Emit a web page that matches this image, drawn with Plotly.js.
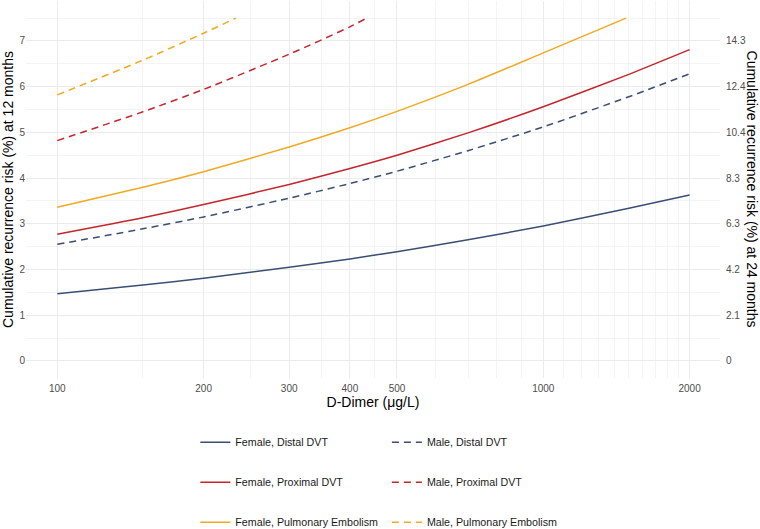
<!DOCTYPE html>
<html>
<head>
<meta charset="utf-8">
<script src="https://cdn.plot.ly/plotly-3.0.1.min.js"></script>
<style>html,body{margin:0;padding:0;background:#fff;}#chart{width:760px;height:529px;}</style>
</head>
<body>
<div id="chart"></div>
<script>
// D-Dimer values (µg/L) read at sampled positions
const dimerFemaleDistal = [100, 150, 200, 300, 400, 500, 700, 1000, 1500, 2000];
const riskFemaleDistal  = [1.47, 1.66, 1.81, 2.05, 2.23, 2.39, 2.65, 2.95, 3.34, 3.63];

const dimerFemaleProximal = [100, 150, 200, 300, 400, 500, 700, 1000, 1500, 2000];
const riskFemaleProximal  = [2.77, 3.13, 3.42, 3.86, 4.21, 4.50, 4.99, 5.56, 6.27, 6.81];

const dimerFemalePE = [100, 150, 200, 300, 400, 500, 700, 1000, 1480];
const riskFemalePE  = [3.36, 3.80, 4.14, 4.68, 5.10, 5.46, 6.05, 6.74, 7.50];

const dimerMaleDistal = [100, 150, 200, 300, 400, 500, 700, 1000, 1500, 2000];
const riskMaleDistal  = [2.55, 2.89, 3.15, 3.56, 3.88, 4.15, 4.60, 5.12, 5.78, 6.28];

const dimerMaleProximal = [100, 150, 200, 300, 400, 433];
const riskMaleProximal  = [4.82, 5.45, 5.94, 6.71, 7.31, 7.50];

const dimerMalePE = [100, 150, 200, 233];
const riskMalePE  = [5.82, 6.58, 7.17, 7.50];

const seriesNames = [
  "Female, Distal DVT", "Female, Proximal DVT", "Female, Pulmonary Embolism",
  "Male, Distal DVT", "Male, Proximal DVT", "Male, Pulmonary Embolism"
];

const xTickVals = [100, 200, 300, 400, 500, 1000, 2000];
const xTickText = ["100", "200", "300", "400", "500", "1000", "2000"];
const xMinorVals = [150, 250, 350, 450, 600, 700, 800, 900, 1100, 1200, 1300, 1400, 1500, 1600, 1700, 1800, 1900];

const yTickVals = [0, 1, 2, 3, 4, 5, 6, 7];
const yTickText = ["0", "1", "2", "3", "4", "5", "6", "7"];
const yMinorVals = [0.5, 1.5, 2.5, 3.5, 4.5, 5.5, 6.5, 7.5];
const y2TickText = ["0", "2.1", "4.2", "6.3", "8.3", "10.4", "12.4", "14.3"];

const colBlue = "#3A4E74", colRed = "#C4262E", colYellow = "#F0A923";
const dashStyle = "7px,5px";
const font = "Liberation Sans, Arial, sans-serif";

function tr(x, y, name, color, dash, legend, group) {
  return {
    x: x, y: y, name: name, type: "scatter", mode: "lines",
    line: {color: color, width: 1.5, dash: dash, shape: "spline", smoothing: 0.6},
    legend: legend, legendgroup: group, hoverinfo: "x+y+name"
  };
}

const data = [
  tr(dimerFemaleDistal, riskFemaleDistal, seriesNames[0], colBlue, "solid", "legend", "g1"),
  tr(dimerFemaleProximal, riskFemaleProximal, seriesNames[1], colRed, "solid", "legend", "g2"),
  tr(dimerFemalePE, riskFemalePE, seriesNames[2], colYellow, "solid", "legend", "g3"),
  tr(dimerMaleDistal, riskMaleDistal, seriesNames[3], colBlue, dashStyle, "legend2", "g4"),
  tr(dimerMaleProximal, riskMaleProximal, seriesNames[4], colRed, dashStyle, "legend2", "g5"),
  tr(dimerMalePE, riskMalePE, seriesNames[5], colYellow, dashStyle, "legend2", "g6"),
  {x: [100], y: [0], yaxis: "y2", type: "scatter", mode: "lines", showlegend: false,
   hoverinfo: "skip", line: {color: "rgba(0,0,0,0)"}}
];

const legendCommon = {
  orientation: "v", xanchor: "left", yanchor: "top",
  font: {family: font, size: 10.7, color: "#1A1A1A"},
  bgcolor: "rgba(0,0,0,0)", borderwidth: 0,
  traceorder: "grouped", tracegroupgap: 21, itemwidth: 30
};

const layout = {
  width: 760, height: 529, autosize: false,
  margin: {l: 26, r: 40, t: 1, b: 151, pad: 0, autoexpand: false},
  paper_bgcolor: "#ffffff", plot_bgcolor: "#ffffff",
  font: {family: font, size: 10, color: "#4D4D4D"},
  showlegend: true,
  xaxis: {
    type: "log", range: [1.9356, 3.3636],
    tickmode: "array", tickvals: xTickVals, ticktext: xTickText,
    showgrid: true, gridcolor: "#EBEBEB", gridwidth: 1,
    zeroline: false, showline: false, ticks: "", ticklabelstandoff: 3,
    tickfont: {family: font, size: 10, color: "#4D4D4D"},
    minor: {tickmode: "array", tickvals: xMinorVals, showgrid: true, gridcolor: "#EFEFEF", gridwidth: 0.7, ticks: ""},
    title: {text: "D-Dimer (μg/L)", font: {family: font, size: 14, color: "#000000"}, standoff: 3},
    automargin: false, fixedrange: true
  },
  yaxis: {
    range: [-0.375, 7.875],
    tickmode: "array", tickvals: yTickVals, ticktext: yTickText,
    showgrid: true, gridcolor: "#EBEBEB", gridwidth: 1,
    zeroline: false, showline: false, ticks: "",
    tickfont: {family: font, size: 10, color: "#4D4D4D"},
    minor: {tickmode: "array", tickvals: yMinorVals, showgrid: true, gridcolor: "#EFEFEF", gridwidth: 0.7, ticks: ""},
    title: {text: "Cumulative recurrence risk (%) at 12 months", font: {family: font, size: 14, color: "#000000"}, standoff: 2},
    automargin: false, fixedrange: true
  },
  yaxis2: {
    overlaying: "y", side: "right", anchor: "x",
    range: [-0.375, 7.875],
    tickmode: "array", tickvals: yTickVals, ticktext: y2TickText,
    showgrid: false, zeroline: false, showline: false, ticks: "", ticklabelstandoff: 5,
    tickfont: {family: font, size: 10, color: "#4D4D4D"},
    automargin: false, fixedrange: true
  },
  annotations: [{
    text: "Cumulative recurrence risk (%) at 24 months",
    xref: "paper", yref: "paper", x: 1.0475, y: 0.5, xanchor: "center", yanchor: "middle",
    textangle: 90, showarrow: false,
    font: {family: font, size: 14, color: "#000000"}
  }],
  legend: Object.assign({}, legendCommon, {x: 0.244, y: -0.132}),
  legend2: Object.assign({}, legendCommon, {x: 0.52, y: -0.132})
};

Plotly.newPlot("chart", data, layout, {staticPlot: true, displayModeBar: false});
</script>
</body>
</html>
